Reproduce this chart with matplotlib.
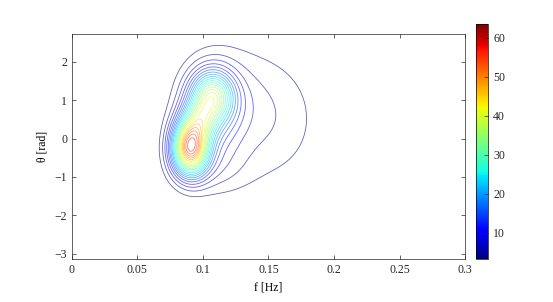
import numpy as np
import matplotlib.pyplot as plt
from matplotlib import colors, cm

# density modelled as a sum of bumps
bump_f = [0.090, 0.097, 0.107, 0.105, 0.115, 0.152, 0.106]
bump_theta = [-0.25, 0.45, 1.10, 0.60, 1.00, 0.50, -0.85]
bump_sf = [0.0095, 0.009, 0.011, 0.016, 0.024, 0.030, 0.020]
bump_st = [0.48, 0.38, 0.45, 0.85, 1.00, 1.30, 0.48]
bump_amp = [49.0, 14.0, 26.0, 10.0, 4.0, 4.8, 3.8]

n_levels = 26
cmin, cmax = 3.3, 63.5

f = np.linspace(0, 0.3, 500)
th = np.linspace(-np.pi, 2.72, 500)
F, T = np.meshgrid(f, th)
Z = np.zeros_like(F)
for a, b, c, d, e in zip(bump_f, bump_theta, bump_sf, bump_st, bump_amp):
	Z += e*np.exp(-0.5*((F-a)/c)**2 - 0.5*((T-b)/d)**2)

plt.rcParams['font.family'] = 'Liberation Serif'
plt.rcParams['font.size'] = 8.5

fig = plt.figure(figsize=(5.53, 3.02), dpi=100)
ax = fig.add_axes([0.130, 0.142, 0.711, 0.745])
norm = colors.Normalize(cmin, cmax)
levels = np.linspace(cmin, cmax, n_levels)
ax.contour(F, T, Z, levels=levels, cmap='jet', norm=norm, linewidths=0.6, alpha=0.6)

ax.set_xlim(0, 0.3)
ax.set_ylim(-np.pi, 2.72)
ax.set_xticks([0, 0.05, 0.1, 0.15, 0.2, 0.25, 0.3])
ax.set_xticklabels(['0', '0.05', '0.1', '0.15', '0.2', '0.25', '0.3'])
ax.set_yticks([-3, -2, -1, 0, 1, 2])
ax.set_yticklabels(['\u22123', '\u22122', '\u22121', '0', '1', '2'])
ax.tick_params(direction='in', length=3, width=0.5, top=True, right=True, colors='#262626')
for s in ax.spines.values():
	s.set_linewidth(0.5)
	s.set_color('#262626')
ax.set_xlabel('f [Hz]')
ax.set_ylabel('\u03b8 [rad]')

cax = fig.add_axes([0.861, 0.142, 0.022, 0.779])
cb = fig.colorbar(cm.ScalarMappable(norm=norm, cmap='jet'), cax=cax)
cb.set_ticks([10, 20, 30, 40, 50, 60])
cb.ax.tick_params(direction='in', length=3, width=0.5, colors='#262626')
cb.outline.set_linewidth(0.5)

fig.savefig('out.png', dpi=100)
